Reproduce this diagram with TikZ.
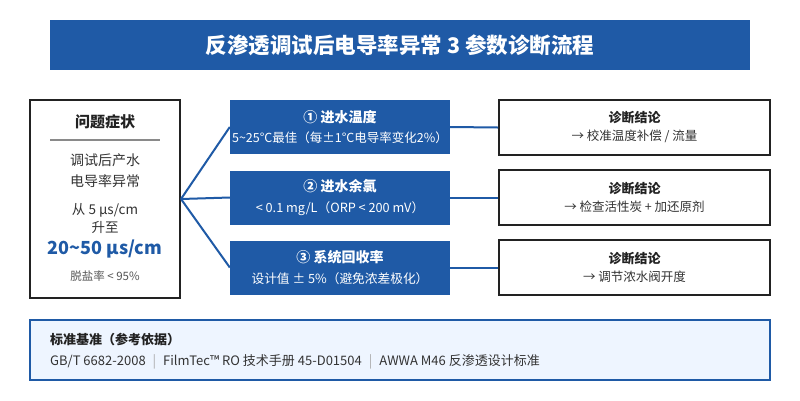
\documentclass[tikz,border=0pt]{standalone}
\usepackage{fontspec}
\setmainfont{Noto Sans CJK SC}
\definecolor{mainblue}{HTML}{1F5AA6}
\definecolor{darktext}{HTML}{222222}
\definecolor{bodytext}{HTML}{333333}
\definecolor{softtext}{HTML}{555555}
\definecolor{rulegray}{HTML}{8A8A8A}
\definecolor{sepgray}{HTML}{AAAAAA}
\definecolor{lightfill}{HTML}{EEF5FF}
\newcommand{\fsz}[1]{\fontsize{#1}{#1}\selectfont}
\tikzset{
  titlebar/.style={fill=mainblue, minimum width=700pt, minimum height=50pt, inner sep=0pt, text=white, font=\bfseries\fsz{21.5}},
  symbox/.style={draw=darktext, line width=2pt, minimum width=150pt, minimum height=198pt, inner sep=0pt},
  parambox/.style={fill=mainblue, minimum width=220pt, minimum height=54pt, inner sep=0pt, text=white, align=center},
  diagbox/.style={draw=darktext, line width=2pt, fill=white, minimum width=271pt, minimum height=55pt, inner sep=0pt, align=center},
  reflbox/.style={draw=mainblue, line width=2pt, fill=lightfill, minimum width=740pt, minimum height=60pt, inner sep=0pt},
  link/.style={draw=mainblue, line width=2pt},
  plain/.style={inner sep=0pt, text=bodytext}
}
\begin{document}
\begin{tikzpicture}[x=1pt,y=-1pt]
\useasboundingbox[fill=white] (0,0) rectangle (800,400);

\node[titlebar] (title) at (400,45) {反渗透调试后电导率异常 3 参数诊断流程};

% symptom box
\node[symbox] (sym) at (105,199) {};
\node[plain, text=darktext, font=\bfseries\fsz{15}] (symt) at (105,122) {问题症状};
\coordinate (rl) at (50,140);
\coordinate (rr) at (160,140);
\draw[draw=rulegray, line width=2pt] (rl) -- (rr);
\node[plain, font=\fsz{14}] (s1) at (105,160) {调试后产水};
\node[plain, font=\fsz{14}] (s2) at (105,181) {电导率异常};
\node[plain, font=\fsz{13.5}] (s3) at (105,210) {从 5 μs/cm};
\node[plain, font=\fsz{13.5}] (s4) at (105,227) {升至};
\node[plain, text=mainblue, font=\bfseries\fsz{18}] (s5) at (105,249) {20\textasciitilde50 μs/cm};
\node[plain, text=softtext, font=\fsz{11.5}] (s6) at (105,276) {脱盐率 < 95\%};

% parameter boxes
\node[parambox] (p1) at (340,127) {{\bfseries\fsz{14}① 进水温度}\\[7pt]{\fsz{12.5}5\textasciitilde25°C最佳（每±1°C电导率变化2\%）}};
\node[parambox] (p2) at (340,197.5) {{\bfseries\fsz{14}② 进水余氯}\\[7pt]{\fsz{12.7}< 0.1 mg/L（ORP < 200 mV）}};
\node[parambox] (p3) at (340,267.5) {{\bfseries\fsz{14}③ 系统回收率}\\[7pt]{\fsz{12.7}设计值 ± 5\%（避免浓差极化）}};

% diagnosis boxes
\node[diagbox] (d1) at (634.5,127.5) {{\bfseries\fsz{13}\color{darktext}诊断结论}\\[6pt]{\fsz{12.5}\color{bodytext}→ 校准温度补偿 / 流量}};
\node[diagbox] (d2) at (634.5,197.5) {{\bfseries\fsz{13}\color{darktext}诊断结论}\\[6pt]{\fsz{12.5}\color{bodytext}→ 检查活性炭 + 加还原剂}};
\node[diagbox] (d3) at (634.5,267.5) {{\bfseries\fsz{13}\color{darktext}诊断结论}\\[6pt]{\fsz{12.5}\color{bodytext}→ 调节浓水阀开度}};

% connectors
\draw[link] (sym.east) -- (p1.west);
\draw[link] (sym.east) -- (p2.west);
\draw[link] (sym.east) -- (p3.west);
\draw[link] (p1.east) -- (d1.west);
\draw[link] (p2.east) -- (d2.west);
\draw[link] (p3.east) -- (d3.west);

% reference box
\node[reflbox] (ref) at (400,350) {};
\node[plain, anchor=west, text=darktext, font=\bfseries\fsz{13}] (reft) at (50,339) {标准基准（参考依据）};
\node[plain, anchor=west, font=\fsz{13}] (refs) at (50,362) {GB/T 6682-2008\hspace{7pt}{\color{sepgray}|}\hspace{7pt}FilmTec™ RO 技术手册 45-D01504\hspace{7pt}{\color{sepgray}|}\hspace{7pt}AWWA M46 反渗透设计标准};
\end{tikzpicture}
\end{document}
